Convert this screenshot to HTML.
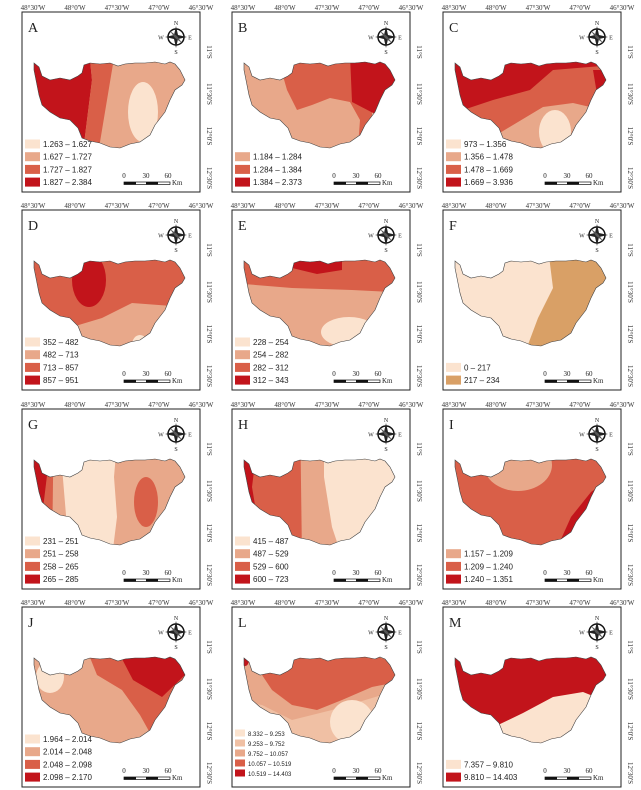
<!DOCTYPE html>
<html><head><meta charset="utf-8"><style>
html,body{margin:0;padding:0;background:#fff;}
svg{display:block;font-family:"Liberation Serif",serif;}
</style></head><body>
<svg id="fig" width="641" height="790" viewBox="0 0 641 790"></svg>
<script>
const NS="http://www.w3.org/2000/svg";
const svg=document.getElementById('fig');
const panelLetters=["A","B","C","D","E","F","G","H","I","J","L","M"];
const legendLabels=[
["1.263 – 1.627","1.627 – 1.727","1.727 – 1.827","1.827 – 2.384"],
["1.184 – 1.284","1.284 – 1.384","1.384 – 2.373"],
["973 – 1.356","1.356 – 1.478","1.478 – 1.669","1.669 – 3.936"],
["352 – 482","482 – 713","713 – 857","857 – 951"],
["228 – 254","254 – 282","282 – 312","312 – 343"],
["0 – 217","217 – 234"],
["231 – 251","251 – 258","258 – 265","265 – 285"],
["415 – 487","487 – 529","529 – 600","600 – 723"],
["1.157 – 1.209","1.209 – 1.240","1.240 – 1.351"],
["1.964 – 2.014","2.014 – 2.048","2.048 – 2.098","2.098 – 2.170"],
["8.332 – 9.253","9.253 – 9.752","9.752 – 10.057","10.057 – 10.519","10.519 – 14.403"],
["7.357 – 9.810","9.810 – 14.403"]];
const C0="#fbe3cf",C1="#e8a88a",C2="#d95f48",C3="#c2141b";
const legendColors=[
[C0,C1,C2,C3],[C1,C2,C3],[C0,C1,C2,C3],[C0,C1,C2,C3],[C0,C1,C2,C3],
[C0,"#d9a066"],[C0,C1,C2,C3],[C0,C1,C2,C3],[C1,C2,C3],[C0,C1,C2,C3],
[C0,"#f0c0a4",C1,C2,C3],[C0,C3]];
const topTicks=["48°30'W","48°0'W","47°30'W","47°0'W","46°30'W"];
const rightTicks=["11°S","11°30'S","12°0'S","12°30'S"];
const basin="12,53 17,57 20,66 28,70 38,68 48,70 56,66 60,63 62,55 68,53 78,54 88,53 96,56 103,54 113,53 123,53 133,52 143,54 148,52 153,54 158,60 163,70 160,75 153,80 148,90 143,102 133,115 128,125 118,132 108,134 98,138 88,137 78,133 68,131 60,128 56,118 48,110 38,108 28,102 20,95 17,85 14,70 12,60";
const zones=[
[[1,'r'],[3,'p',"0,0 63,0 70,70 60,150 0,150"],[2,'p',"63,0 100,0 75,150 60,150 70,70"],[0,'e',[121,102,15,30]]],
[[0,'r'],[1,'p',"45,45 140,45 140,150 125,150 128,110 118,92 98,88 80,95 65,100 55,80"],[2,'p',"118,45 175,45 175,80 145,105 120,92"]],
[[3,'r'],[2,'p',"0,100 20,100 50,90 87,80 110,60 170,55 180,150 0,150"],[3,'p',"150,60 180,60 180,90 155,90"],[1,'p',"0,150 50,127 100,97 130,93 160,100 180,150"],[0,'e',[112,122,16,22]]],
[[2,'r'],[3,'e',[67,72,17,27]],[1,'p',"0,120 40,122 80,110 110,95 150,98 180,110 180,150 0,150"],[0,'e',[118,137,8,10]]],
[[1,'r'],[2,'p',"0,0 180,0 180,85 120,82 60,80 0,75"],[3,'p',"55,40 110,40 110,62 85,66 60,60"],[0,'e',[117,124,28,15]]],
[[0,'r'],[1,'p',"100,0 180,0 180,150 80,150 95,110 110,80"]],
[[0,'r'],[1,'p',"98,0 180,0 180,150 90,150 95,110 92,70"],[1,'p',"0,0 45,0 40,60 45,120 60,150 0,150"],[2,'p',"0,0 32,0 30,150 0,150"],[3,'p',"0,0 22,0 26,60 20,110 0,110"],[2,'e',[124,95,12,25]]],
[[0,'r'],[1,'p',"0,0 92,0 92,70 100,120 110,150 0,150"],[2,'p',"0,0 68,0 70,150 0,150"],[3,'p',"0,0 30,0 20,80 25,110 0,110"]],
[[1,'r'],[0,'e',[75,58,34,26]],[2,'p',"170,70 180,70 180,150 110,150 128,110 148,85"]],
[[1,'r'],[0,'e',[28,72,14,16]],[2,'p',"63,40 180,40 180,150 125,150 128,128 118,110 100,85 75,70"],[3,'p',"98,50 175,50 165,68 140,92 111,75"]],
[[2,'r'],[3,'p',"45,50 140,50 170,60 160,78 140,82 110,95 85,105 60,100 40,85 30,70"],[4,'e',[13,55,4,6]],[1,'p',"0,95 30,100 60,115 100,105 150,90 180,88 180,150 0,150"],[0,'e',[120,117,22,22]]],
[[1,'r'],[0,'p',"45,150 55,120 80,108 110,92 140,87 160,95 180,150"]]
];
const colX=[22,232,443], rowY=[10,208,407,605];
function el(tag,attrs,parent){const e=document.createElementNS(NS,tag);for(const k in attrs)e.setAttribute(k,attrs[k]);(parent||svg).appendChild(e);return e;}
panelLetters.forEach((L,i)=>{
  const ox=colX[i%3], oy=rowY[Math.floor(i/3)];
  const g=el('g',{transform:`translate(${ox},${oy})`});
  
  
  const W=178,H=180;
  const frame=el('rect',{x:0,y:2,width:W,height:H,fill:'#fff',stroke:'#222','stroke-width':1},g);
  
  
  topTicks.forEach((t,k)=>{
    const tx=el('text',{x:11+k*42,y:0,'font-size':7,'text-anchor':'middle',fill:'#333'},g);
    tx.textContent=t;
    
    
  });
  rightTicks.forEach((t,k)=>{
    const y=42+k*42;
    const tx=el('text',{x:0,y:0,'font-size':7,'text-anchor':'middle',fill:'#333',transform:`translate(${W+7},${y}) rotate(90)`},g);
    tx.textContent=t;
    
    
  });
  const cid='clip'+i;
  const cp=el('clipPath',{id:cid},g);
  el('polygon',{points:basin},cp);
  const zg=el('g',{'clip-path':`url(#${cid})`},g);
  
  
  const cols=legendColors[i];
  zones[i].forEach(z=>{
    let e;
    if(z[1]==='r') e=el('rect',{x:0,y:0,width:W,height:H,fill:cols[z[0]]},zg);
    else if(z[1]==='p') e=el('polygon',{points:z[2],fill:cols[z[0]]},zg);
    else e=el('ellipse',{cx:z[2][0],cy:z[2][1],rx:z[2][2],ry:z[2][3],fill:cols[z[0]]},zg);
    
    
  });
  const outline=el('polygon',{points:basin,fill:'none',stroke:'#444','stroke-width':0.6},g);
  
  
  const lt=el('text',{x:6,y:22,'font-size':14,fill:'#222'},g);
  lt.textContent=L;
  
  
  const cg=el('g',{transform:'translate(154,27)'},g);
  
  
  el('circle',{cx:0,cy:0,r:8,fill:'none',stroke:'#111','stroke-width':1.5},cg);
  el('polygon',{points:"0,-11 2,-2 11,0 2,2 0,11 -2,2 -11,0 -2,-2",fill:'#222'},cg);
  el('polygon',{points:"6,-6 1,-1 -6,6 -1,1",fill:'#555'},cg);
  el('polygon',{points:"-6,-6 -1,1 6,6 1,-1",fill:'#555'},cg);
  [["N",0,-12],["S",0,17],["W",-15,2.5],["E",14,2.5]].forEach(d=>{
    const t=el('text',{x:d[1],y:d[2],'font-size':6,'text-anchor':'middle',fill:'#222'},cg);t.textContent=d[0];
  });
  const labs=legendLabels[i], n=labs.length;
  const small=n>4;
  const step=small?10:12.7, bh=small?7:9;
  const lg=el('g',{},g);
  
  
  labs.forEach((lab,k)=>{
    const y=(small?128:134)+(k+(small?0:4-n))*step;
    const r=el('rect',{x:3,y:y-bh/2,width:small?10:15,height:bh,fill:cols[k]},lg);
    
    
    const t=el('text',{x:small?16:21,y:y+3,'font-size':small?6:8,fill:'#222','font-family':'Liberation Sans, sans-serif'},lg);
    t.textContent=lab;
    
    
  });
  const sg=el('g',{},g);
  
  
  [["0",102],["30",124],["60",146]].forEach(s=>{const t=el('text',{x:s[1],y:168,'font-size':7,'text-anchor':'middle',fill:'#222'},sg);t.textContent=s[0];});
  el('rect',{x:102,y:172,width:46,height:2.5,fill:'#fff',stroke:'#111','stroke-width':0.7},sg);
  el('rect',{x:102,y:172,width:12,height:2.5,fill:'#111'},sg);
  el('rect',{x:124,y:172,width:12,height:2.5,fill:'#111'},sg);
  const km=el('text',{x:150,y:175,'font-size':7,fill:'#222'},sg);km.textContent='Km';
});
</script>
</body></html>
